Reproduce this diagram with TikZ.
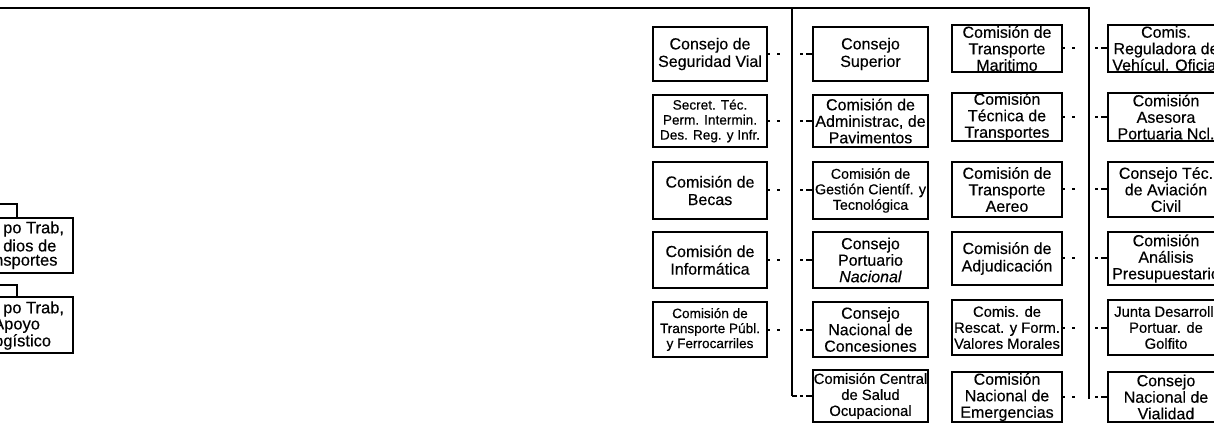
\documentclass[tikz,border=0pt]{standalone}
\usepackage{fontspec}
\setmainfont{Liberation Sans}[FakeBold=0.35]
\newcommand\bx[7]{\node[box,#6,minimum width={(#4-#2)*1pt},minimum height={(#5-#3)*1pt}] (#1) at ({(#2+#4)/2},{(#3+#5)/2}) {#7};}
\tikzset{
  box/.style={draw, line width=1.6pt, inner sep=0pt, outer sep=0pt, align=center},
  big/.style={font=\fontsize{16}{16.5}\selectfont},
  bigtwo/.style={font=\fontsize{16}{17.5}\selectfont},
  med/.style={font=\fontsize{14.8}{16}\selectfont},
  medn/.style={font=\fontsize{14.3}{15.5}\selectfont},
  sml/.style={font=\fontsize{13.6}{15}\selectfont},
  lefttext/.style={anchor=west, inner sep=0pt, font=\fontsize{16.5}{17}\selectfont},
  trunk/.style={line width=1.8pt},
  conn/.style={line width=2pt, dash pattern=on 3pt off 7pt on 3pt off 20pt on 3pt off 3pt on 7pt},
  connend/.style={line width=2pt, dash pattern=on 5pt off 3pt on 3pt off 3pt on 7pt},
}
\begin{document}
\begin{tikzpicture}[x=1pt,y=-1pt]
\useasboundingbox (0,0) rectangle (1214,427);
\clip (0,0) rectangle (1214,427);
\fill[white] (0,0) rectangle (1214,427);

% trunk lines
\coordinate (tl) at (0,8);
\coordinate (j1) at (792,8);
\coordinate (j2) at (1089,8);
\coordinate (e1) at (792,396);
\coordinate (e2) at (1089,399);
\draw[trunk] (tl) -- (j2) -- (e2);
\draw[trunk] (j1) -- (e1);

% column 1
\bx{c1r1}{653}{27}{767}{81}{bigtwo}{Consejo de\\Seguridad Vial}
\bx{c1r2}{653}{95}{767}{147}{sml}{Secret. Téc.\\Perm. Intermin.\\Des. Reg. y Infr.}
\bx{c1r3}{653}{162}{767}{219}{bigtwo}{Comisión de\\Becas}
\bx{c1r4}{653}{232}{767}{288}{bigtwo}{Comisión de\\Informática}
\bx{c1r5}{653}{302}{767}{357}{sml}{Comisión de\\Transporte Públ.\\y Ferrocarriles}

% column 2
\bx{c2r1}{813}{27}{928}{81}{bigtwo}{Consejo\\Superior}
\bx{c2r2}{813}{95}{928}{147}{big}{Comisión de\\Administrac, de\\Pavimentos}
\bx{c2r3}{813}{162}{928}{219}{medn}{Comisión de\\Gestión Científ. y\\Tecnológica}
\bx{c2r4}{813}{232}{928}{288}{big}{Consejo\\Portuario\\\textit{Nacional}}
\bx{c2r5}{813}{302}{928}{357}{big}{Consejo\\Nacional de\\Concesiones}
\bx{c2r6}{813}{370}{928}{422}{med}{Comisión Central\\de Salud\\Ocupacional}

% column 3
\bx{c3r1}{952}{25}{1062}{72}{big}{Comisión de\\Transporte\\Maritimo}
\bx{c3r2}{952}{93}{1062}{141}{big}{Comisión\\Técnica de\\Transportes}
\bx{c3r3}{952}{162}{1062}{217}{big}{Comisión de\\Transporte\\Aereo}
\bx{c3r4}{952}{232}{1062}{285}{bigtwo}{Comisión de\\Adjudicación}
\bx{c3r5}{952}{300}{1062}{355}{med}{Comis. de\\Rescat. y Form.\\Valores Morales}
\bx{c3r6}{952}{372}{1062}{422}{big}{Comisión\\Nacional de\\Emergencias}

% column 4
\bx{c4r1}{1108}{25}{1224}{72}{big}{Comis.\\Reguladora de\\Vehícul. Oficial}
\bx{c4r2}{1108}{93}{1224}{141}{big}{Comisión\\Asesora\\Portuaria Ncl.}
\bx{c4r3}{1108}{162}{1224}{217}{big}{Consejo Téc.\\de Aviación\\Civil}
\bx{c4r4}{1108}{232}{1224}{285}{big}{Comisión\\Análisis\\Presupuestario}
\bx{c4r5}{1108}{300}{1224}{355}{med}{Junta Desarroll.\\Portuar. de\\Golfito}
\bx{c4r6}{1108}{372}{1224}{422}{big}{Consejo\\Nacional de\\Vialidad}

% dotted connectors
\foreach \r in {1,...,5}{
  \draw[conn] (c1r\r.east) -- (c2r\r.west);
}
\foreach \r in {1,...,6}{
  \draw[conn] (c3r\r.east) -- (c4r\r.west);
}
\draw[connend] (e1) -- (c2r6.west);

% left partial boxes
\bx{lb1}{-10}{218}{73}{273}{big}{}
\bx{lb2}{-10}{297}{73}{353}{big}{}
\node[lefttext] (lt1a) at (3,229) {po Trab,};
\node[lefttext] (lt1b) at (3,245.5) {dios de};
\node[lefttext] (lt1c) at (-6,262) {nsportes};
\node[lefttext] (lt2a) at (3,309) {po Trab,};
\node[lefttext] (lt2b) at (-7,325.5) {Apoyo};
\node[lefttext] (lt2c) at (-6,342) {ogístico};
\coordinate (lc1) at (0,204);
\coordinate (lc1b) at (17,204);
\coordinate (lc2) at (0,285);
\coordinate (lc2b) at (17,285);
\draw[trunk] (lc1) -- (lc1b) -- (lc1b |- lb1.north);
\draw[trunk] (lc2) -- (lc2b) -- (lc2b |- lb2.north);
\end{tikzpicture}
\end{document}
